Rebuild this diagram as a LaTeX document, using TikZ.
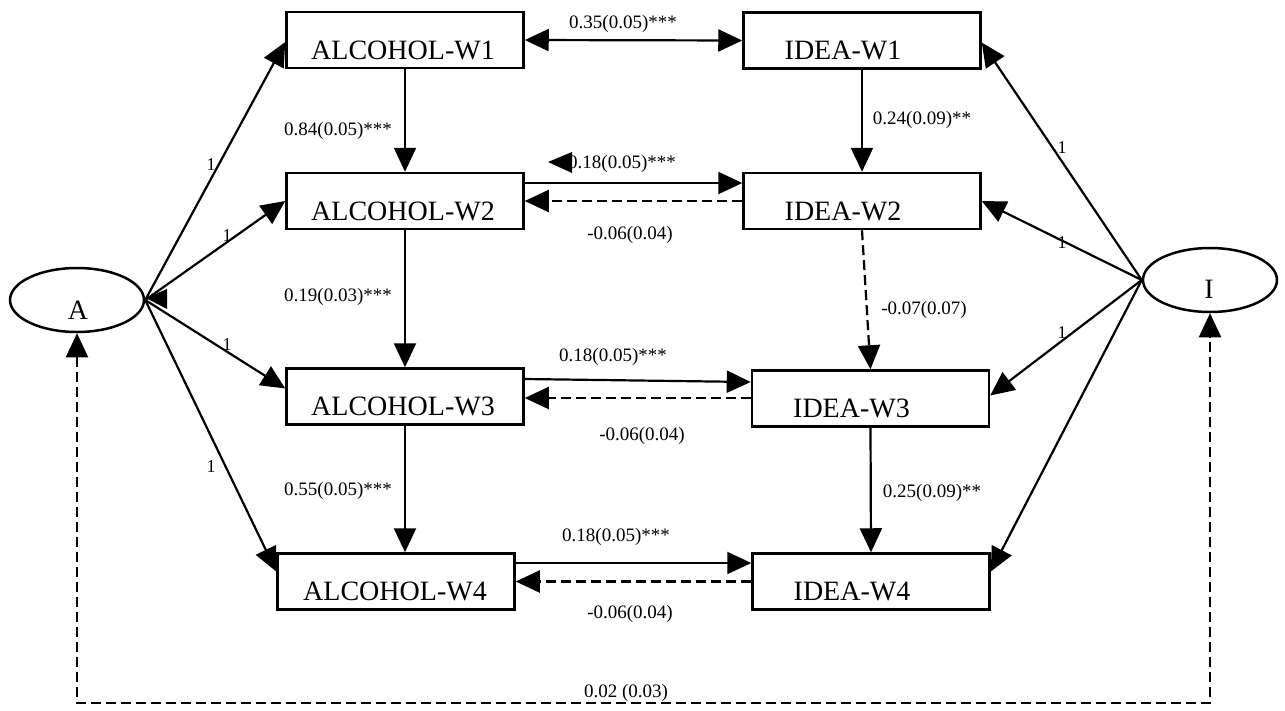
\documentclass[tikz,border=0pt]{standalone}
\usepackage{fontspec}
\setmainfont{Liberation Serif}
\usetikzlibrary{arrows.meta,calc,shapes.geometric}
\begin{document}
\begin{tikzpicture}[x=1pt,y=-1pt,
  box/.style={draw, line width=2.5pt, minimum width=237pt, minimum height=56pt, inner sep=0pt},
  boxtxt/.style={font=\fontsize{28}{30}\selectfont, inner sep=0pt},
  lat/.style={draw, ellipse, line width=2.5pt, minimum width=134pt, minimum height=64pt, inner sep=0pt},
  con/.style={line width=2.2pt, -{Triangle[length=24pt,width=22pt]}},
  both/.style={line width=2.2pt, {Triangle[length=24pt,width=22pt]}-{Triangle[length=24pt,width=22pt]}},
  dsh/.style={dash pattern=on 10pt off 5pt},
  coef/.style={font=\fontsize{19}{21}\selectfont, inner sep=0pt},
  one/.style={font=\fontsize{18}{20}\selectfont, inner sep=0pt}]
\useasboundingbox (0,0) rectangle (1285,710);

% latent factors
\node[lat] (A) at (77,300) {};
\node[boxtxt] (At) at (78,310) {A};
\node[lat] (I) at (1210,280) {};
\node[boxtxt] (It) at (1209,289) {I};

% observed waves
\node[box] (a1) at (405,40) {};
\node[box] (a2) at (405,201) {};
\node[box] (a3) at (405,396.5) {};
\node[box] (a4) at (396,581.5) {};
\node[box] (i1) at (862,40.5) {};
\node[box] (i2) at (862,201) {};
\node[box] (i3) at (870.5,398.5) {};
\node[box] (i4) at (871,581.5) {};

\node[boxtxt] (a1t) at ($(a1)+(-2,10)$) {ALCOHOL-W1};
\node[boxtxt] (a2t) at ($(a2)+(-2,10)$) {ALCOHOL-W2};
\node[boxtxt] (a3t) at ($(a3)+(-2,10)$) {ALCOHOL-W3};
\node[boxtxt] (a4t) at ($(a4)+(-1,10)$) {ALCOHOL-W4};
\node[boxtxt] (i1t) at ($(i1)+(-19,10)$) {IDEA-W1};
\node[boxtxt] (i2t) at ($(i2)+(-19,10)$) {IDEA-W2};
\node[boxtxt] (i3t) at ($(i3)+(-19,10)$) {IDEA-W3};
\node[boxtxt] (i4t) at ($(i4)+(-19,10)$) {IDEA-W4};

% loadings
\draw[con] (A.east) -- ([yshift=-2pt]a1.west);
\draw[con] (A.east) -- (a2.west);
\draw[con] (A.east) -- ([yshift=8pt]a3.west);
\draw[con] (A.east) -- ([yshift=10pt]a4.west);
\draw[con] (I.west) -- ([yshift=-2pt]i1.east);
\draw[con] (I.west) -- (i2.east);
\draw[con] (I.west) -- ([yshift=3pt]i3.east);
\draw[con] (I.west) -- ([yshift=10pt]i4.east);

\node[one] (l1) at (211,165) {1};
\node[one] (l2) at (227,236) {1};
\node[one] (l3) at (227,345) {1};
\node[one] (l4) at (211,467) {1};
\node[one] (r1) at (1062,148) {1};
\node[one] (r2) at (1062,243) {1};
\node[one] (r3) at (1062,333) {1};

% autoregressive paths
\draw[con] (a1.south) -- (a2.north);
\draw[con] (a2.south) -- (a3.north);
\draw[con] (a3.south) -- (a3.south |- a4.north);
\draw[con] (i1.south) -- (i2.north);
\draw[con,dsh] (i2.south) -- (i3.north);
\draw[con] (i3.south) -- (i4.north);

% cross-lagged and covariance paths
\draw[both] (a1.east) -- (i1.west);
\draw[con] ([yshift=18pt]a2.east) -- ([yshift=18pt]i2.west);
\draw[con,dsh] (i2.west) -- (a2.east);
\draw[con] ([yshift=17.5pt]a3.east) -- ([yshift=16.5pt]i3.west);
\draw[con,dsh] ([yshift=0.5pt]i3.west) -- ([yshift=0.5pt]i3.west -| a3.east);
\draw[con] ([yshift=18.5pt]a4.east) -- ([yshift=18.5pt]i4.west);
\draw[con,dsh] (i4.west) -- (a4.east);

% factor covariance
\coordinate (bot) at (640,703);
\draw[both,dsh] (A.south) |- (bot) -| (I.south);

% coefficients
\node[coef] (c1) at (623,24) {0.35(0.05)***};
\node[coef] (c2) at (338,131) {0.84(0.05)***};
\node[coef] (c3) at (922,120) {0.24(0.09)**};
\node[coef] (c4) at (622,164) {0.18(0.05)***};
\node[coef] (c5) at (630,235) {-0.06(0.04)};
\node[coef] (c6) at (338,297) {0.19(0.03)***};
\node[coef] (c7) at (924,310) {-0.07(0.07)};
\node[coef] (c8) at (613,357) {0.18(0.05)***};
\node[coef] (c9) at (642,436) {-0.06(0.04)};
\node[coef] (c10) at (338,491) {0.55(0.05)***};
\node[coef] (c11) at (932,493) {0.25(0.09)**};
\node[coef] (c12) at (616,537) {0.18(0.05)***};
\node[coef] (c13) at (630,614) {-0.06(0.04)};
\node[coef] (c14) at (626,693) {0.02 (0.03)};

% loose arrowheads
\fill (548,162) -- (572,152) -- (572,173) -- cycle;
\fill (146,298) -- (167,289) -- (167,309) -- cycle;
\end{tikzpicture}
\end{document}
